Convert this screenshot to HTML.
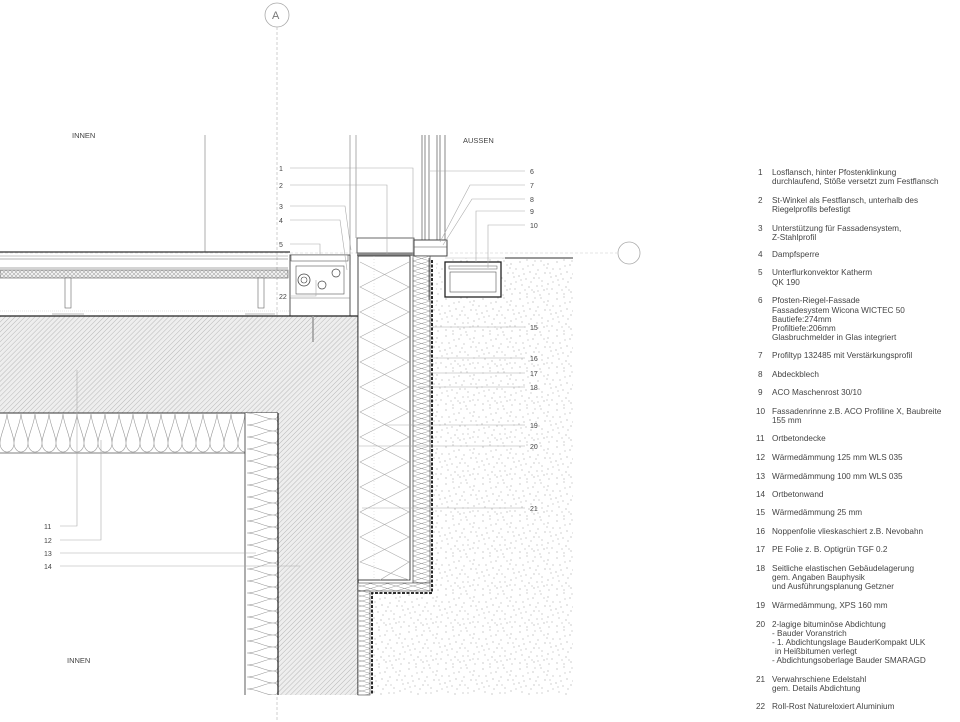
<!DOCTYPE html>
<html><head><meta charset="utf-8"><style>
html,body{margin:0;padding:0;background:#fff}
svg{display:block}
text{font-family:"Liberation Sans",sans-serif;fill:#444}
.n{font-size:7px;fill:#555}
.lg{font-size:8.2px;fill:#3a3a3a}
.ld{stroke:#aaa;stroke-width:0.6;fill:none}
</style></head><body>
<svg width="960" height="722" viewBox="0 0 960 722" xmlns="http://www.w3.org/2000/svg">
<defs>
<pattern id="hatch" width="3.5" height="3.5" patternUnits="userSpaceOnUse" patternTransform="rotate(45)">
<rect width="4" height="4" fill="#eeeeee"/><line x1="0" y1="0" x2="0" y2="4" stroke="#aaa" stroke-width="0.8"/></pattern>
<pattern id="cross" width="4" height="4" patternUnits="userSpaceOnUse">
<rect width="4" height="4" fill="#eee"/><path d="M0 0L4 4M4 0L0 4" stroke="#999" stroke-width="0.5"/></pattern>
<pattern id="waveH" width="14" height="40" patternUnits="userSpaceOnUse" x="0" y="413">
<rect width="14" height="40" fill="#fff"/>
<path d="M7 1 C8 12 14 22 14 30 C14 36 10 39 7 39 C4 39 0 36 0 30 C0 22 6 12 7 1" stroke="#999" stroke-width="0.6" fill="none"/></pattern>
<pattern id="waveV" width="33" height="12" patternUnits="userSpaceOnUse" x="245" y="413">
<rect width="33" height="12" fill="#fff"/>
<path d="M2 0 C12 0 20 6 28 6 C32 6 33 4 33 0 M2 12 C12 12 20 6 28 6 C32 6 33 8 33 12" stroke="#999" stroke-width="0.6" fill="none"/></pattern>
<pattern id="stip" width="37" height="37" patternUnits="userSpaceOnUse">
<rect width="37" height="37" fill="#fff"/>
<g fill="#8a8a8a">
<circle cx="2" cy="3" r="0.55"/><circle cx="9" cy="1" r="0.5"/><circle cx="15" cy="6" r="0.55"/><circle cx="23" cy="2" r="0.5"/><circle cx="30" cy="5" r="0.55"/><circle cx="35" cy="10" r="0.5"/><circle cx="5" cy="10" r="0.5"/><circle cx="12" cy="13" r="0.55"/><circle cx="20" cy="11" r="0.5"/><circle cx="27" cy="14" r="0.55"/><circle cx="33" cy="18" r="0.5"/><circle cx="1" cy="17" r="0.55"/><circle cx="8" cy="20" r="0.5"/><circle cx="16" cy="19" r="0.55"/><circle cx="24" cy="22" r="0.5"/><circle cx="30" cy="25" r="0.55"/><circle cx="4" cy="26" r="0.5"/><circle cx="11" cy="28" r="0.55"/><circle cx="19" cy="27" r="0.5"/><circle cx="26" cy="31" r="0.55"/><circle cx="34" cy="30" r="0.5"/><circle cx="2" cy="34" r="0.55"/><circle cx="9" cy="35" r="0.5"/><circle cx="16" cy="33" r="0.55"/><circle cx="22" cy="36" r="0.5"/><circle cx="31" cy="35" r="0.5"/><circle cx="18" cy="15" r="0.5"/><circle cx="6" cy="15" r="0.5"/><circle cx="29" cy="9" r="0.5"/><circle cx="13" cy="23" r="0.5"/>
<circle cx="26" cy="6" r="0.45"/><circle cx="3" cy="21" r="0.45"/><circle cx="21" cy="19" r="0.45"/><circle cx="35" cy="23" r="0.45"/><circle cx="14" cy="31" r="0.45"/><circle cx="29" cy="30" r="0.45"/><circle cx="10" cy="7" r="0.45"/><circle cx="24" cy="27" r="0.45"/><circle cx="7" cy="31" r="0.45"/><circle cx="32" cy="14" r="0.45"/><circle cx="17" cy="2" r="0.45"/><circle cx="20" cy="32" r="0.45"/>
</g></pattern>
<pattern id="zig" width="17" height="10" patternUnits="userSpaceOnUse" x="413" y="256">
<rect width="17" height="10" fill="#fff"/><path d="M0 0L17 5L0 10M17 0L0 5L17 10" stroke="#999" stroke-width="0.5" fill="none"/></pattern>
</defs>

<circle cx="277" cy="15" r="12" fill="#fff" stroke="#aaa" stroke-width="0.8"/>
<text x="272" y="19" style="font-size:11px;fill:#777">A</text>
<line x1="277" y1="27" x2="277" y2="722" stroke="#bbb" stroke-width="0.7" stroke-dasharray="3 2"/>
<line x1="0" y1="253" x2="617" y2="253" stroke="#ccc" stroke-width="0.6" stroke-dasharray="3 2"/>
<circle cx="629" cy="253" r="11" fill="#fff" stroke="#aaa" stroke-width="0.8"/>

<line x1="205" y1="135" x2="205" y2="252" stroke="#777" stroke-width="0.6"/>
<line x1="350" y1="135" x2="350" y2="265" stroke="#777" stroke-width="0.6"/>
<line x1="356" y1="135" x2="356" y2="238" stroke="#777" stroke-width="0.6"/>
<g stroke="#555" stroke-width="0.7">
<line x1="422" y1="135" x2="422" y2="240"/><line x1="425" y1="135" x2="425" y2="240"/>
<line x1="429" y1="135" x2="429" y2="240"/><line x1="437" y1="135" x2="437" y2="240"/>
<line x1="440" y1="135" x2="440" y2="240"/><line x1="445" y1="135" x2="445" y2="240"/>
</g>

<line x1="0" y1="252" x2="290" y2="252" stroke="#333" stroke-width="1.2"/>
<line x1="0" y1="256" x2="288" y2="256" stroke="#888" stroke-width="0.6"/>
<line x1="0" y1="259" x2="288" y2="259" stroke="#666" stroke-width="0.6"/>
<rect x="0" y="270" width="288" height="8" fill="url(#cross)" stroke="#555" stroke-width="0.6"/>
<line x1="0" y1="268" x2="288" y2="268" stroke="#555" stroke-width="0.6"/>
<rect x="65" y="278" width="6" height="30" fill="#fff" stroke="#666" stroke-width="0.6"/>
<rect x="258" y="278" width="6" height="30" fill="#fff" stroke="#666" stroke-width="0.6"/>
<line x1="52" y1="314" x2="84" y2="314" stroke="#777" stroke-width="0.6"/>
<line x1="245" y1="314" x2="275" y2="314" stroke="#777" stroke-width="0.6"/>
<line x1="0" y1="311" x2="290" y2="311" stroke="#ccc" stroke-width="0.6" stroke-dasharray="1 1"/>

<rect x="290" y="255" width="60" height="61" fill="#fff" stroke="#444" stroke-width="0.9"/>
<rect x="291" y="255" width="57" height="6" fill="#fff" stroke="#555" stroke-width="0.6"/>
<rect x="296" y="266" width="48" height="28" fill="#fff" stroke="#555" stroke-width="0.6"/>
<circle cx="304" cy="280" r="6" fill="#fff" stroke="#444" stroke-width="0.8"/>
<circle cx="304" cy="280" r="3" fill="none" stroke="#444" stroke-width="0.6"/>
<circle cx="336" cy="273" r="4" fill="#fff" stroke="#444" stroke-width="0.7"/>
<circle cx="322" cy="285" r="4" fill="#fff" stroke="#444" stroke-width="0.7"/>
<line x1="290" y1="298" x2="350" y2="298" stroke="#777" stroke-width="0.5"/>

<rect x="0" y="316" width="358" height="97" fill="url(#hatch)"/>
<line x1="0" y1="316" x2="358" y2="316" stroke="#222" stroke-width="1.3"/>
<rect x="278" y="413" width="80" height="282" fill="url(#hatch)"/>
<rect x="0" y="413" width="245" height="40" fill="url(#waveH)"/>
<line x1="0" y1="413" x2="278" y2="413" stroke="#333" stroke-width="0.9"/>
<line x1="0" y1="453" x2="245" y2="453" stroke="#555" stroke-width="0.7"/>
<rect x="245" y="413" width="33" height="282" fill="url(#waveV)"/>
<line x1="245" y1="413" x2="245" y2="695" stroke="#333" stroke-width="0.8"/>
<line x1="278" y1="413" x2="278" y2="695" stroke="#222" stroke-width="1.2"/>
<line x1="358" y1="316" x2="358" y2="695" stroke="#222" stroke-width="1.2"/>
<line x1="313" y1="316" x2="313" y2="342" stroke="#999" stroke-width="1.5"/>

<rect x="357" y="238" width="57" height="15" fill="#fff" stroke="#444" stroke-width="0.8"/>
<rect x="357" y="253" width="57" height="3" fill="#888"/>
<rect x="414" y="240" width="33" height="16" fill="#fff" stroke="#333" stroke-width="0.9"/>
<line x1="414" y1="247" x2="447" y2="247" stroke="#555" stroke-width="0.6"/>

<path d="M436 258 L573 258 L573 695 L372 695 L372 593 L428 593 L428 310 L436 305 Z" fill="url(#stip)"/>
<rect x="445" y="262" width="56" height="35" fill="#fff" stroke="#222" stroke-width="1.3"/>
<rect x="449" y="266" width="48" height="3" fill="#fff" stroke="#555" stroke-width="0.5"/>
<rect x="450" y="272" width="46" height="20" fill="#fff" stroke="#555" stroke-width="0.6"/>
<line x1="445" y1="258" x2="505" y2="258" stroke="#bbb" stroke-width="0.5"/>
<line x1="505" y1="258" x2="573" y2="258" stroke="#333" stroke-width="1"/>

<rect x="358" y="256" width="52" height="324" fill="#fff" stroke="#333" stroke-width="0.9"/>
<path d="M360 262 L409 287 L360 312 L409 337 L360 362 L409 387 L360 412 L409 437 L360 462 L409 487 L360 512 L409 537 L360 562 L409 580" stroke="#aaa" stroke-width="0.6" fill="none"/>
<path d="M409 262 L360 287 L409 312 L360 337 L409 362 L360 387 L409 412 L360 437 L409 462 L360 487 L409 512 L360 537 L409 562 L380 580" stroke="#aaa" stroke-width="0.6" fill="none"/>
<line x1="374" y1="256" x2="374" y2="580" stroke="#ccc" stroke-width="0.5" stroke-dasharray="1 2"/>
<rect x="413" y="256" width="17" height="327" fill="url(#zig)" stroke="#444" stroke-width="0.7"/>
<rect x="358" y="583" width="72" height="8" fill="url(#zig)" stroke="#444" stroke-width="0.6"/>
<rect x="358" y="591" width="12" height="104" fill="url(#zig)" stroke="#444" stroke-width="0.6"/>
<path d="M432 260 L432 593 L372 593 L372 695" stroke="#111" stroke-width="1.8" fill="none" stroke-dasharray="3 1.5"/>
<line x1="429" y1="258" x2="429" y2="300" stroke="#444" stroke-width="0.7"/>

<g class="ld">
<path d="M290 168 L413 168 L413 258"/>
<path d="M290 185 L387 185 L387 254"/>
<path d="M290 206 L345 206 L351 250"/>
<path d="M290 220 L340 220 L347 270"/>
<path d="M290 244 L320 244 L320 255"/>
<path d="M290 296 L316 296 L316 280"/>
<path d="M430 171 L525 171"/>
<path d="M440 242 L470 185 L525 185"/>
<path d="M443 245 L472 199 L525 199"/>
<path d="M476 262 L476 211 L525 211"/>
<path d="M488 268 L488 225 L525 225"/>
<path d="M433 327 L525 327"/>
<path d="M430 358 L525 358"/>
<path d="M430 373 L525 373"/>
<path d="M418 387 L525 387"/>
<path d="M385 425 L525 425"/>
<path d="M358 446 L525 446"/>
<path d="M362 508 L525 508"/>
<path d="M60 526 L77 526 L77 370"/>
<path d="M60 540 L101 540 L101 440"/>
<path d="M60 553 L256 553"/>
<path d="M60 566 L300 566"/>
</g>

<g class="n">
<text x="279" y="171">1</text><text x="279" y="188">2</text><text x="279" y="209">3</text><text x="279" y="223">4</text><text x="279" y="247">5</text><text x="279" y="299">22</text>
<text x="530" y="174">6</text><text x="530" y="188">7</text><text x="530" y="202">8</text><text x="530" y="214">9</text><text x="530" y="228">10</text>
<text x="530" y="330">15</text><text x="530" y="361">16</text><text x="530" y="376">17</text><text x="530" y="390">18</text><text x="530" y="428">19</text><text x="530" y="449">20</text><text x="530" y="511">21</text>
<text x="44" y="529">11</text><text x="44" y="543">12</text><text x="44" y="556">13</text><text x="44" y="569">14</text>
</g>
<text x="72" y="138" style="font-size:7.5px">INNEN</text>
<text x="463" y="143" style="font-size:7.5px">AUSSEN</text>
<text x="67" y="663" style="font-size:7.5px">INNEN</text>

<g class="lg">
<text x="758" y="175">1</text><text x="772" y="175">Losflansch, hinter Pfostenklinkung</text><text x="772" y="184">durchlaufend, Stöße versetzt zum Festflansch</text>
<text x="758" y="203">2</text><text x="772" y="203">St-Winkel als Festflansch, unterhalb des</text><text x="772" y="212">Riegelprofils befestigt</text>
<text x="758" y="231">3</text><text x="772" y="231">Unterstützung für Fassadensystem,</text><text x="772" y="240">Z-Stahlprofil</text>
<text x="758" y="257">4</text><text x="772" y="257">Dampfsperre</text>
<text x="758" y="275">5</text><text x="772" y="275">Unterflurkonvektor Katherm</text><text x="772" y="285">QK 190</text>
<text x="758" y="303">6</text><text x="772" y="303">Pfosten-Riegel-Fassade</text><text x="772" y="313">Fassadesystem Wicona WICTEC 50</text><text x="772" y="322">Bautiefe:274mm</text><text x="772" y="331">Profiltiefe:206mm</text><text x="772" y="340">Glasbruchmelder in Glas integriert</text>
<text x="758" y="358">7</text><text x="772" y="358">Profiltyp 132485 mit Verstärkungsprofil</text>
<text x="758" y="377">8</text><text x="772" y="377">Abdeckblech</text>
<text x="758" y="395">9</text><text x="772" y="395">ACO Maschenrost 30/10</text>
<text x="756" y="414">10</text><text x="772" y="414">Fassadenrinne z.B. ACO Profiline X, Baubreite</text><text x="772" y="423">155 mm</text>
<text x="756" y="441">11</text><text x="772" y="441">Ortbetondecke</text>
<text x="756" y="460">12</text><text x="772" y="460">Wärmedämmung 125 mm WLS 035</text>
<text x="756" y="479">13</text><text x="772" y="479">Wärmedämmung 100 mm WLS 035</text>
<text x="756" y="497">14</text><text x="772" y="497">Ortbetonwand</text>
<text x="756" y="515">15</text><text x="772" y="515">Wärmedämmung 25 mm</text>
<text x="756" y="534">16</text><text x="772" y="534">Noppenfolie vlieskaschiert z.B. Nevobahn</text>
<text x="756" y="552">17</text><text x="772" y="552">PE Folie z. B. Optigrün TGF 0.2</text>
<text x="756" y="571">18</text><text x="772" y="571">Seitliche elastischen Gebäudelagerung</text><text x="772" y="580">gem. Angaben Bauphysik</text><text x="772" y="589">und Ausführungsplanung Getzner</text>
<text x="756" y="608">19</text><text x="772" y="608">Wärmedämmung, XPS 160 mm</text>
<text x="756" y="627">20</text><text x="772" y="627">2-lagige bituminöse Abdichtung</text><text x="772" y="636">- Bauder Voranstrich</text><text x="772" y="645">- 1. Abdichtungslage BauderKompakt ULK</text><text x="775" y="654">in Heißbitumen verlegt</text><text x="772" y="663">- Abdichtungsoberlage Bauder SMARAGD</text>
<text x="756" y="682">21</text><text x="772" y="682">Verwahrschiene Edelstahl</text><text x="772" y="691">gem. Details Abdichtung</text>
<text x="756" y="709">22</text><text x="772" y="709">Roll-Rost Natureloxiert Aluminium</text>
</g>
</svg>
</body></html>
